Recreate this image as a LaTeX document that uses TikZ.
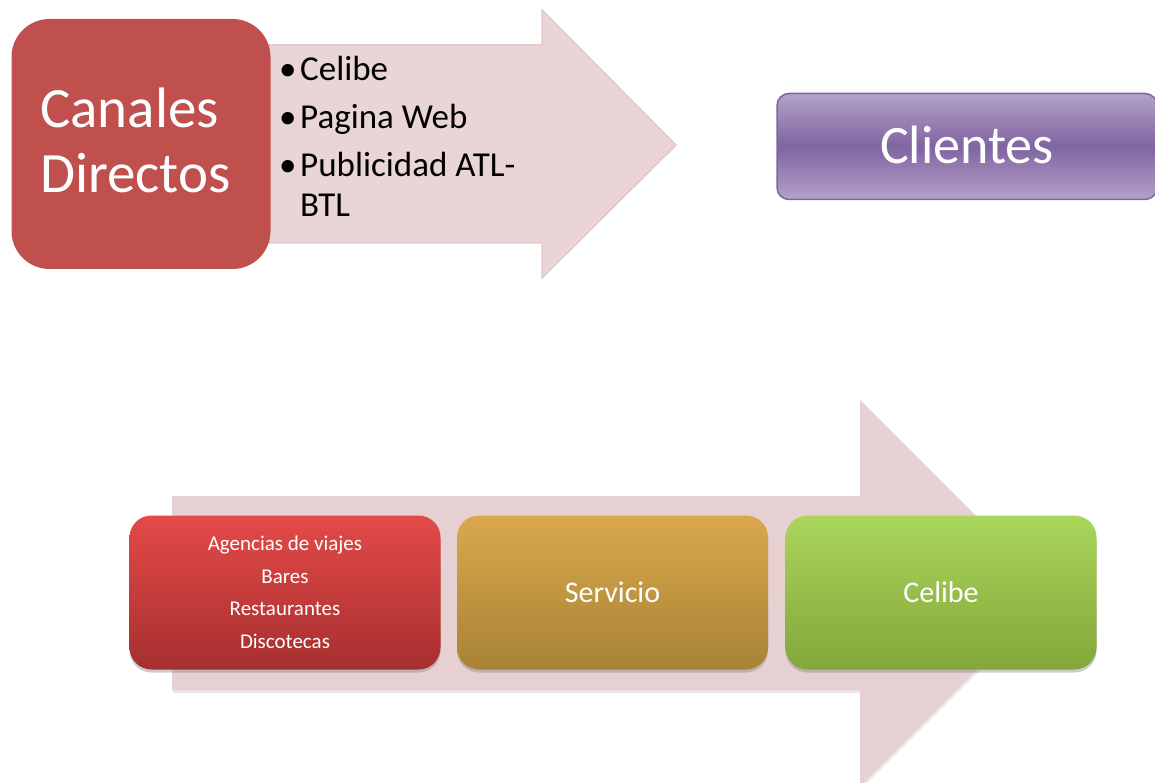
\documentclass[tikz,border=0pt]{standalone}
\usepackage{fontspec}
\setmainfont{Carlito}
\usetikzlibrary{shadows}
\definecolor{canred}{HTML}{C0504D}
\definecolor{arrowpink}{HTML}{EAD5D6}
\definecolor{arrowedge}{HTML}{E5C9CA}
\definecolor{arrowpinkb}{HTML}{E6D0D1}
\definecolor{purplelight}{HTML}{B3A2C8}
\definecolor{purpledark}{HTML}{8064A2}
\definecolor{purpleedge}{HTML}{7E64A0}
\definecolor{redtop}{HTML}{E34A48}
\definecolor{redbot}{HTML}{A62F2F}
\definecolor{ambertop}{HTML}{DAA94C}
\definecolor{amberbot}{HTML}{A88236}
\definecolor{greentop}{HTML}{AAD65B}
\definecolor{greenbot}{HTML}{84A63B}
\tikzset{
  bigtext/.style={font=\fontsize{57}{65}\selectfont, text=white, inner sep=0pt},
  listtext/.style={font=\fontsize{35}{41}\selectfont, text=black, inner sep=0pt, anchor=base west},
  stagebox/.style={rounded corners=22pt, minimum width=311pt, minimum height=154pt,
    inner sep=0pt, text=white, align=center,
    drop shadow={opacity=0.4, shadow xshift=0pt, shadow yshift=-3pt}},
  smalltext/.style={font=\fontsize{21}{32.5}\selectfont},
  midtext/.style={font=\fontsize{30}{36}\selectfont}
}
\begin{document}
\begin{tikzpicture}[x=1pt,y=-1pt]
\clip (0,0) rectangle (1155,783);
\fill[white] (0,0) rectangle (1155,783);

% top arrow
\path[fill=arrowpink, draw=arrowedge, line width=1.5pt, line join=miter]
  (255,45) -- (542,45) -- (542,10) -- (676,145) -- (542,278) -- (542,243) -- (255,243) -- cycle;

% Canales Directos box
\node (canales) [fill=canred, rounded corners=38pt, minimum width=259pt, minimum height=250pt, inner sep=0pt] at (141,144) {};
\node (t1) [bigtext, anchor=base west] at (40,128) {Canales};
\node (t2) [bigtext, anchor=base west] at (40,193) {Directos};

% bullets
\node (b1) [listtext] at (279,81) {•};
\node (l1) [listtext] at (300,81) {Celibe};
\node (b2) [listtext] at (279,129) {•};
\node (l2) [listtext] at (300,129) {Pagina Web};
\node (b3) [listtext] at (279,177) {•};
\node (l3) [listtext] at (300,177) {Publicidad ATL-};
\node (l4) [listtext] at (300,217) {BTL};

% Clientes
\node (clientes) [rounded corners=12pt, minimum width=380pt, minimum height=106pt, inner sep=0pt,
  top color=purplelight, bottom color=purplelight, middle color=purpledark,
  draw=purpleedge, line width=1.5pt, text=white, font=\fontsize{54}{60}\selectfont]
  at (967,146.5) {\raisebox{3pt}{Clientes}};

% bottom arrow
\path[fill=arrowpinkb, drop shadow={opacity=0.18, shadow xshift=1pt, shadow yshift=-3pt}]
  (172,496) -- (860,496) -- (860,400) -- (1053,593) -- (860,786) -- (860,690) -- (172,690) -- cycle;

% stage boxes
\node (agencias) [stagebox, top color=redtop, bottom color=redbot, smalltext] at (285,592.5)
  {Agencias de viajes\\Bares\\Restaurantes\\Discotecas};
\node (servicio) [stagebox, top color=ambertop, bottom color=amberbot, midtext] at (612.5,592.5) {Servicio};
\node (celibe) [stagebox, top color=greentop, bottom color=greenbot, midtext] at (941,592.5) {Celibe};
\end{tikzpicture}
\end{document}
